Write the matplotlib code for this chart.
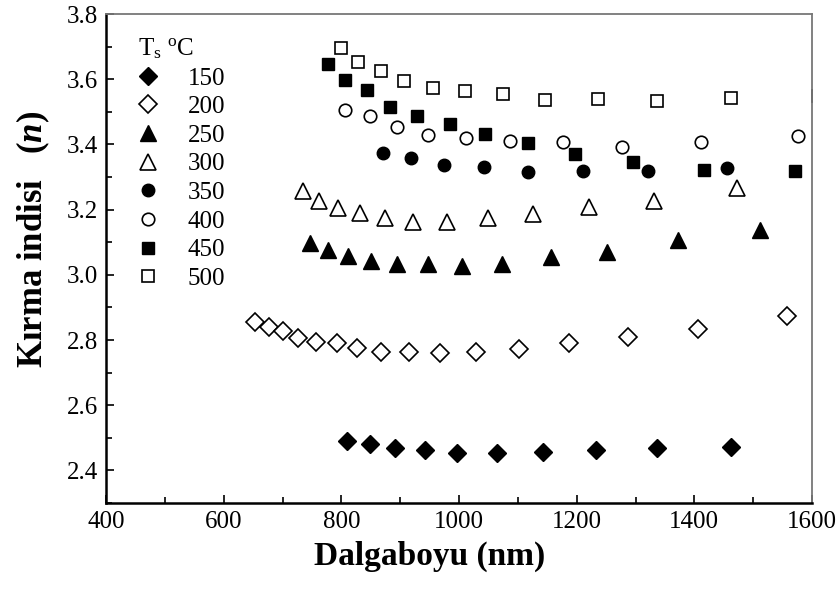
import matplotlib
matplotlib.use("Agg")
import matplotlib.pyplot as plt
from matplotlib.ticker import MultipleLocator

plt.rcParams['font.family'] = ['Liberation Serif', 'DejaVu Serif']
plt.rcParams['mathtext.fontset'] = 'custom'
plt.rcParams['mathtext.rm'] = 'Liberation Serif'
plt.rcParams['mathtext.it'] = 'Liberation Serif:italic:bold'

# refractive index n vs wavelength for substrate temps
x150 = [809, 849, 892, 942, 997, 1064, 1142, 1232, 1337, 1462]
n150 = [2.490, 2.482, 2.470, 2.463, 2.452, 2.454, 2.457, 2.463, 2.468, 2.473]

x200 = [654, 677, 701, 727, 757, 792, 827, 867, 915, 967, 1029, 1102, 1187, 1287, 1407, 1557]
n200 = [2.854, 2.841, 2.828, 2.805, 2.795, 2.792, 2.775, 2.764, 2.762, 2.759, 2.764, 2.772,
        2.790, 2.808, 2.834, 2.874]

x250 = [747, 777, 812, 850, 895, 948, 1005, 1073, 1156, 1252, 1372, 1512]
n250 = [3.098, 3.076, 3.058, 3.042, 3.032, 3.032, 3.028, 3.033, 3.055, 3.071, 3.107, 3.137]

x300 = [734, 762, 794, 832, 874, 921, 979, 1050, 1126, 1221, 1331, 1472]
n300 = [3.258, 3.227, 3.204, 3.189, 3.173, 3.163, 3.163, 3.173, 3.186, 3.207, 3.226, 3.267]

x350 = [870, 919, 975, 1043, 1117, 1211, 1321, 1456]
n350 = [3.373, 3.357, 3.337, 3.332, 3.315, 3.319, 3.319, 3.327]

x400 = [807, 849, 894, 948, 1012, 1087, 1176, 1277, 1411, 1577]
n400 = [3.506, 3.487, 3.454, 3.429, 3.421, 3.410, 3.408, 3.391, 3.408, 3.427]

x450 = [777, 807, 844, 882, 929, 984, 1044, 1117, 1197, 1296, 1416, 1571]
n450 = [3.646, 3.598, 3.566, 3.516, 3.488, 3.464, 3.431, 3.405, 3.371, 3.347, 3.322, 3.318]

x500 = [800, 829, 867, 906, 955, 1011, 1075, 1146, 1237, 1336, 1462, 1610]
n500 = [3.695, 3.653, 3.626, 3.594, 3.572, 3.565, 3.554, 3.536, 3.540, 3.532, 3.541, 3.547]

fig = plt.figure(figsize=(8.4, 5.96), dpi=100)
ax = fig.add_axes([0.1262, 0.156, 0.8405, 0.8205])

ms = 8.8
ax.plot(x150, n150, 'D', ms=ms, color='k', label='150')
ax.plot(x200, n200, 'D', ms=ms, mfc='white', mec='k', mew=1.2, label='200')
ax.plot(x250, n250, '^', ms=11, color='k', label='250')
ax.plot(x300, n300, '^', ms=11, mfc='white', mec='k', mew=1.2, label='300')
ax.plot(x350, n350, 'o', ms=9, color='k', label='350')
ax.plot(x400, n400, 'o', ms=9, mfc='white', mec='k', mew=1.2, label='400')
ax.plot(x450, n450, 's', ms=8.3, color='k', label='450')
ax.plot(x500, n500, 's', ms=8.3, mfc='white', mec='k', mew=1.2, label='500')

ax.set_xlim(400, 1600)
ax.set_ylim(2.3, 3.8)
ax.xaxis.set_major_locator(MultipleLocator(200))
ax.xaxis.set_minor_locator(MultipleLocator(100))
ax.yaxis.set_major_locator(MultipleLocator(0.2))
ax.yaxis.set_minor_locator(MultipleLocator(0.1))
ax.yaxis.set_major_formatter(matplotlib.ticker.FormatStrFormatter('%.1f'))
ax.tick_params(which='both', direction='in', top=False, right=False, labelsize=18, width=1.2)
ax.tick_params(which='major', length=6)
ax.tick_params(which='minor', length=4)
ax.tick_params(axis='x', pad=6)
ax.tick_params(axis='y', pad=6)

for s in ['left', 'bottom']:
    ax.spines[s].set_linewidth(1.8)
for s in ['top', 'right']:
    ax.spines[s].set_linewidth(1.3)
    ax.spines[s].set_color('#777777')

ax.set_xlabel('Dalgaboyu (nm)', fontsize=24, fontweight='bold')
ax.set_ylabel(r'Kırma indisi   ($\mathit{n}$)', fontsize=25, fontweight='bold')
ax.xaxis.set_label_coords(0.459, -0.078)
ax.yaxis.set_label_coords(-0.077, 0.54)

leg = ax.legend(title=r'T$_{\rm s}$ $^{\rm o}$C', loc='upper left', bbox_to_anchor=(0.02, 0.99),
                frameon=False, fontsize=18, title_fontsize=18, handlelength=0.85,
                handletextpad=1.15, labelspacing=0.245, borderpad=0.2)
leg._legend_box.align = 'left'

fig.savefig('out.png', dpi=100)
